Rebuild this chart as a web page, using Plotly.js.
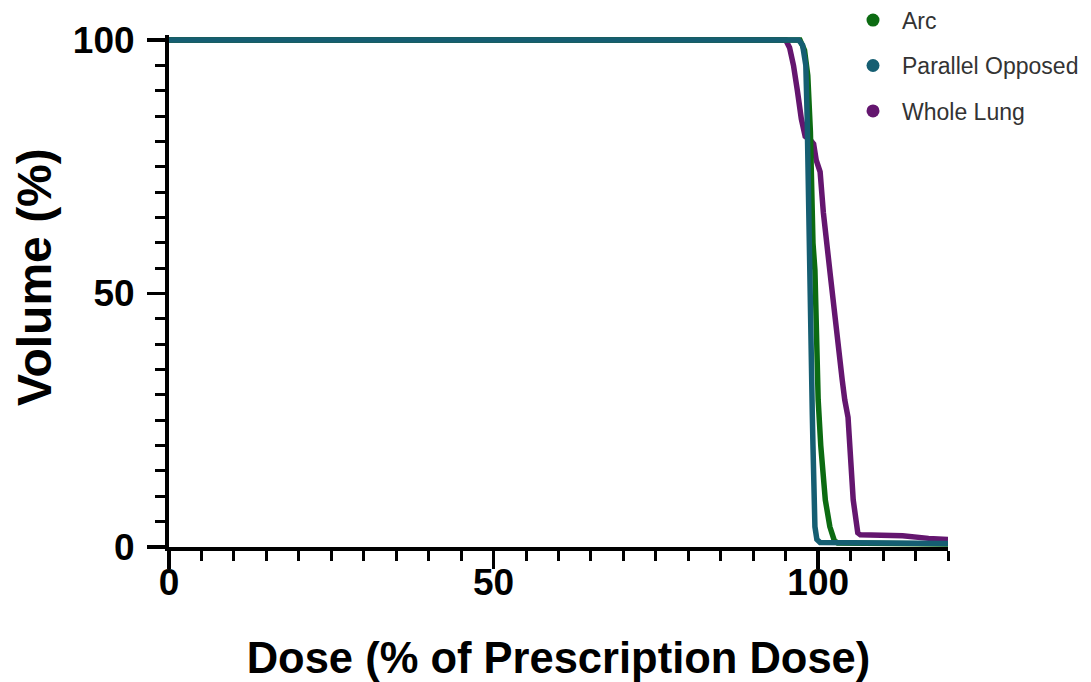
<!DOCTYPE html>
<html>
<head>
<meta charset="utf-8">
<script src="https://cdn.plot.ly/plotly-3.0.1.min.js"></script>
<style>
  html, body { margin: 0; padding: 0; background: #ffffff; }
  #chart { width: 1091px; height: 682px; }
</style>
</head>
<body>
<div id="chart"></div>
<script>
// Cumulative dose-volume histograms for three planning techniques
const seriesNames = ["Arc", "Parallel Opposed", "Whole Lung"];
const seriesColors = ["#0c6b12", "#155e72", "#64166f"];

// Arc
const arcDose   = [0, 97.2, 97.9, 98.4, 98.8, 99.0, 99.2, 99.5, 99.8, 100.0, 100.4, 101.1, 101.8, 102.5, 103.0, 120];
const arcVolume = [100, 100, 98, 93, 82, 70, 60, 54.6, 40, 29, 20, 9.3, 4, 1.2, 0.8, 0.6];

// Parallel Opposed
const poDose   = [0, 97.0, 97.6, 98.1, 98.3, 98.5, 98.8, 99.1, 99.2, 99.4, 99.5, 99.8, 100.3, 120];
const poVolume = [100, 100, 99, 95, 85, 65, 54, 26, 20, 8, 4, 1.5, 0.9, 0.7];

// Whole Lung
const wlDose   = [0, 95.0, 95.6, 96.2, 96.8, 97.4, 98.0, 98.8, 99.3, 99.7, 100.3, 100.8, 101.9, 102.8, 103.7, 104.1, 104.6, 105.4, 105.8, 106.1, 106.5, 110, 113, 117, 120];
const wlVolume = [100, 100, 98.5, 95, 90, 84.5, 81, 80.3, 79.5, 76.3, 74, 66, 53.3, 42, 33, 29, 25.6, 9.3, 5, 2.8, 2.4, 2.4, 2.2, 1.7, 1.5];

// Axis ticks
const xTickVals = [0, 50, 100];
const yTickVals = [0, 50, 100];

const fontFamily = "Arial, 'Liberation Sans', Helvetica, sans-serif";

// Curves: Whole Lung drawn first so the other two sit on top
const curves = [
  { x: wlDose, y: wlVolume, idx: 2 },
  { x: arcDose, y: arcVolume, idx: 0 },
  { x: poDose, y: poVolume, idx: 1 }
].map(c => ({
  type: "scatter",
  mode: "lines",
  x: c.x,
  y: c.y,
  name: seriesNames[c.idx],
  showlegend: false,
  line: { color: seriesColors[c.idx], width: 5.5 },
  hoverinfo: "x+y+name"
}));

// Legend entries shown as round dots
const legendEntries = seriesNames.map((n, i) => ({
  type: "scatter",
  mode: "markers",
  x: [null],
  y: [null],
  name: n,
  legendgroup: n,
  marker: { color: seriesColors[i], size: 13, symbol: "circle" }
}));

const axisCommon = {
  showline: true,
  linecolor: "#000000",
  linewidth: 4,
  showgrid: false,
  zeroline: false,
  ticks: "outside",
  tickcolor: "#000000",
  tickwidth: 3.5,
  ticklen: 18,
  tickfont: { family: fontFamily, size: 37, color: "#000000", weight: 700 },
  minor: { dtick: 5, ticks: "outside", ticklen: 10, tickwidth: 3, tickcolor: "#000000", showgrid: false },
  fixedrange: true
};

const layout = {
  width: 1091,
  height: 682,
  paper_bgcolor: "#ffffff",
  plot_bgcolor: "#ffffff",
  margin: { l: 169, r: 143, t: 35, b: 135, autoexpand: false },
  showlegend: true,
  xaxis: Object.assign({}, axisCommon, {
    range: [0, 120],
    tickmode: "array",
    tickvals: xTickVals,
    ticktext: xTickVals.map(String),
    ticklabelstandoff: -18,
    title: {
      text: "Dose (% of Prescription Dose)",
      font: { family: fontFamily, size: 43.5, color: "#000000", weight: 700 },
      standoff: 43
    }
  }),
  yaxis: Object.assign({}, axisCommon, {
    range: [0, 101],
    tickmode: "array",
    tickvals: yTickVals,
    ticktext: yTickVals.map(String),
    ticklabelstandoff: 5
  }),
  // y-axis title placed as rotated text left of the tick labels
  annotations: [{
    text: "Volume (%)",
    xref: "paper",
    yref: "paper",
    x: 0,
    y: 0.5,
    xanchor: "center",
    yanchor: "middle",
    xshift: -135,
    yshift: 14,
    textangle: -90,
    showarrow: false,
    font: { family: fontFamily, size: 48, color: "#000000", weight: 700 }
  }],
  legend: {
    x: 0.8665,
    y: 1.071,
    xanchor: "left",
    yanchor: "top",
    bgcolor: "rgba(0,0,0,0)",
    borderwidth: 0,
    traceorder: "grouped",
    tracegroupgap: 12.5,
    itemwidth: 48,
    font: { family: fontFamily, size: 23, color: "#333333" }
  }
};

Plotly.newPlot("chart", curves.concat(legendEntries), layout, { displayModeBar: false, staticPlot: true });
</script>
</body>
</html>
